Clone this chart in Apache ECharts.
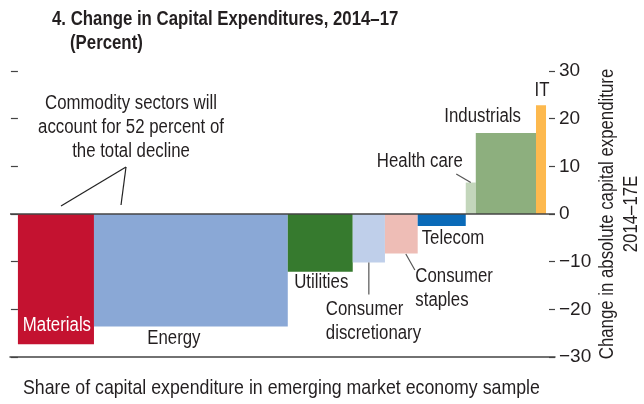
<!DOCTYPE html>
<html>
<head>
<meta charset="utf-8">
<script src="https://cdn.jsdelivr.net/npm/echarts@6/dist/echarts.min.js"></script>
<style>
  html, body { margin: 0; padding: 0; background: #fff; }
  #chart { width: 644px; height: 404px; }
</style>
</head>
<body>
<div id="chart"></div>
<script>
// Sectors, their share of capex (bar widths) and change in capex 2014–17E (bar heights)
const sectors = ['Materials', 'Energy', 'Utilities', 'Consumer\ndiscretionary', 'Consumer\nstaples',
                 'Telecom', 'Health care', 'Industrials', 'IT'];
const shares  = [14.4, 36.7, 12.3, 6.1, 6.2, 9.1, 1.9, 11.4, 1.9];
const changes = [-27.3, -23.6, -12.1, -10.2, -8.3, -2.5, 6.6, 17.0, 22.8];
const yTickValues = [-30, -20, -10, 0, 10, 20, 30];

const colors = ['#C41230', '#8AA8D6', '#367A2E', '#BFCFEA', '#EEBDB6', '#0A6AB8', '#C3D6BB', '#8DAF7E', '#FDB94E'];
const FONT = '"Liberation Sans", Arial, sans-serif';
const INK = '#231f20';
const NARROW = 0.84;   // horizontal squeeze giving a condensed look

// Label placement relative to the bar's end point (centre x, outer y)
const labelLayout = [
  { dx: 1,   dy: -19,  align: 'center', fill: '#fff' },
  { dx: -17, dy: 12,   align: 'center' },
  { dx: 1,   dy: 11,   align: 'center' },
  { dx: -43, dy: 59,   align: 'left', leader: [0, 0, 0, 32] },
  { dx: 14,  dy: 35,   align: 'left', leader: [4.5, 0.5, 13.5, 16.5] },
  { dx: -20, dy: 13,   align: 'left' },
  { dx: -8,  dy: -21,  align: 'right', leader: [-14.5, -8.5, 0, 0] },
  { dx: 15,  dy: -16,  align: 'right' },
  { dx: 1,   dy: -15,  align: 'center' }
];

// Cumulative positions of each variable-width bar along the share axis
const barData = [];
let acc = 0;
for (let i = 0; i < sectors.length; i++) {
  barData.push([acc, acc + shares[i], changes[i], i]);
  acc += shares[i];
}

const yMin = yTickValues[0], yMax = yTickValues[yTickValues.length - 1];

// Condensed text element anchored at (x, y)
function label(text, x, y, opts) {
  opts = opts || {};
  return {
    type: 'text', x: x, y: y, scaleX: opts.squeeze || NARROW, rotation: opts.rotation || 0, z2: 10,
    style: {
      text: text, x: 0, y: 0, fill: opts.fill || INK, fontFamily: FONT,
      fontSize: opts.size || 20, fontWeight: opts.weight || 'normal', lineHeight: opts.lineHeight || 24,
      align: opts.align || 'left', verticalAlign: opts.valign || 'middle'
    }
  };
}

const chart = echarts.init(document.getElementById('chart'), null, { renderer: 'canvas' });

chart.setOption({
  animation: false,
  grid: { left: 10, right: 89, top: 71, bottom: 47, outerBoundsMode: 'none', containLabel: false },
  xAxis: {
    type: 'value', min: -1.5, max: 101.7,
    axisLine: { show: true, onZero: false, lineStyle: { color: '#444', width: 1.5 } },
    axisTick: { show: false }, axisLabel: { show: false }, splitLine: { show: false }
  },
  yAxis: [
    {
      type: 'value', position: 'left', min: yMin, max: yMax, interval: 10, offset: -7,
      axisLine: { show: false },
      axisTick: { show: true, inside: false, length: 7, lineStyle: { color: '#444', width: 1.2 } },
      axisLabel: { show: false }, splitLine: { show: false }
    },
    {
      type: 'value', position: 'right', min: yMin, max: yMax, interval: 10,
      axisLine: { show: false },
      axisTick: { show: true, inside: true, length: 6, lineStyle: { color: '#444', width: 1.2 } },
      axisLabel: {
        margin: 4, color: INK, fontFamily: FONT, fontSize: 19,
        formatter: v => String(v).replace('-', '\u2212')
      },
      splitLine: { show: false }
    }
  ],
  series: [
    {
      type: 'custom',
      clip: false,
      data: barData,
      encode: { x: [0, 1], y: 2 },
      renderItem: function (params, api) {
        const x0 = api.value(0), x1 = api.value(1), v = api.value(2);
        const i = api.value(3);
        const p0 = api.coord([x0, 0]);
        const p1 = api.coord([x1, v]);
        const top = Math.min(p0[1], p1[1]);
        const h = Math.abs(p1[1] - p0[1]);
        const cx = (p0[0] + p1[0]) / 2;
        const ey = p1[1];
        const L = labelLayout[i];
        const children = [{
          type: 'rect',
          shape: { x: p0[0], y: top, width: p1[0] - p0[0], height: h },
          style: { fill: colors[i] }
        }, label(sectors[i], cx + L.dx, ey + L.dy, { align: L.align, fill: L.fill })];
        if (L.leader) {
          children.push({
            type: 'line', z2: 10,
            shape: { x1: cx + L.leader[0], y1: ey + L.leader[1], x2: cx + L.leader[2], y2: ey + L.leader[3] },
            style: { stroke: '#555', lineWidth: 1.2 }
          });
        }
        return { type: 'group', children: children };
      }
    },
    {
      // zero line drawn on top of the bars
      type: 'line', data: [], z: 5,
      markLine: {
        silent: true, symbol: 'none', label: { show: false },
        lineStyle: { color: '#444', width: 1.5, type: 'solid' },
        data: [{ yAxis: 0 }]
      }
    }
  ],
  graphic: [
    label('4. Change in Capital Expenditures, 2014\u201317', 52, 19, { weight: 'bold', size: 21, squeeze: 0.8 }),
    label('(Percent)', 70, 43, { weight: 'bold', size: 21, squeeze: 0.8 }),
    label('Commodity sectors will\naccount for 52 percent of\nthe total decline', 131, 127, { align: 'center' }),
    { type: 'line', shape: { x1: 126, y1: 167, x2: 61, y2: 206 }, style: { stroke: '#222', lineWidth: 1.2 } },
    { type: 'line', shape: { x1: 126, y1: 167, x2: 121, y2: 205 }, style: { stroke: '#222', lineWidth: 1.2 } },
    label('Share of capital expenditure in emerging market economy sample', 23, 388, { size: 21, squeeze: 0.845 }),
    label('Change in absolute capital expenditure\n2014\u201317E', 619, 214,
          { align: 'center', rotation: Math.PI / 2 })
  ]
});
</script>
</body>
</html>
